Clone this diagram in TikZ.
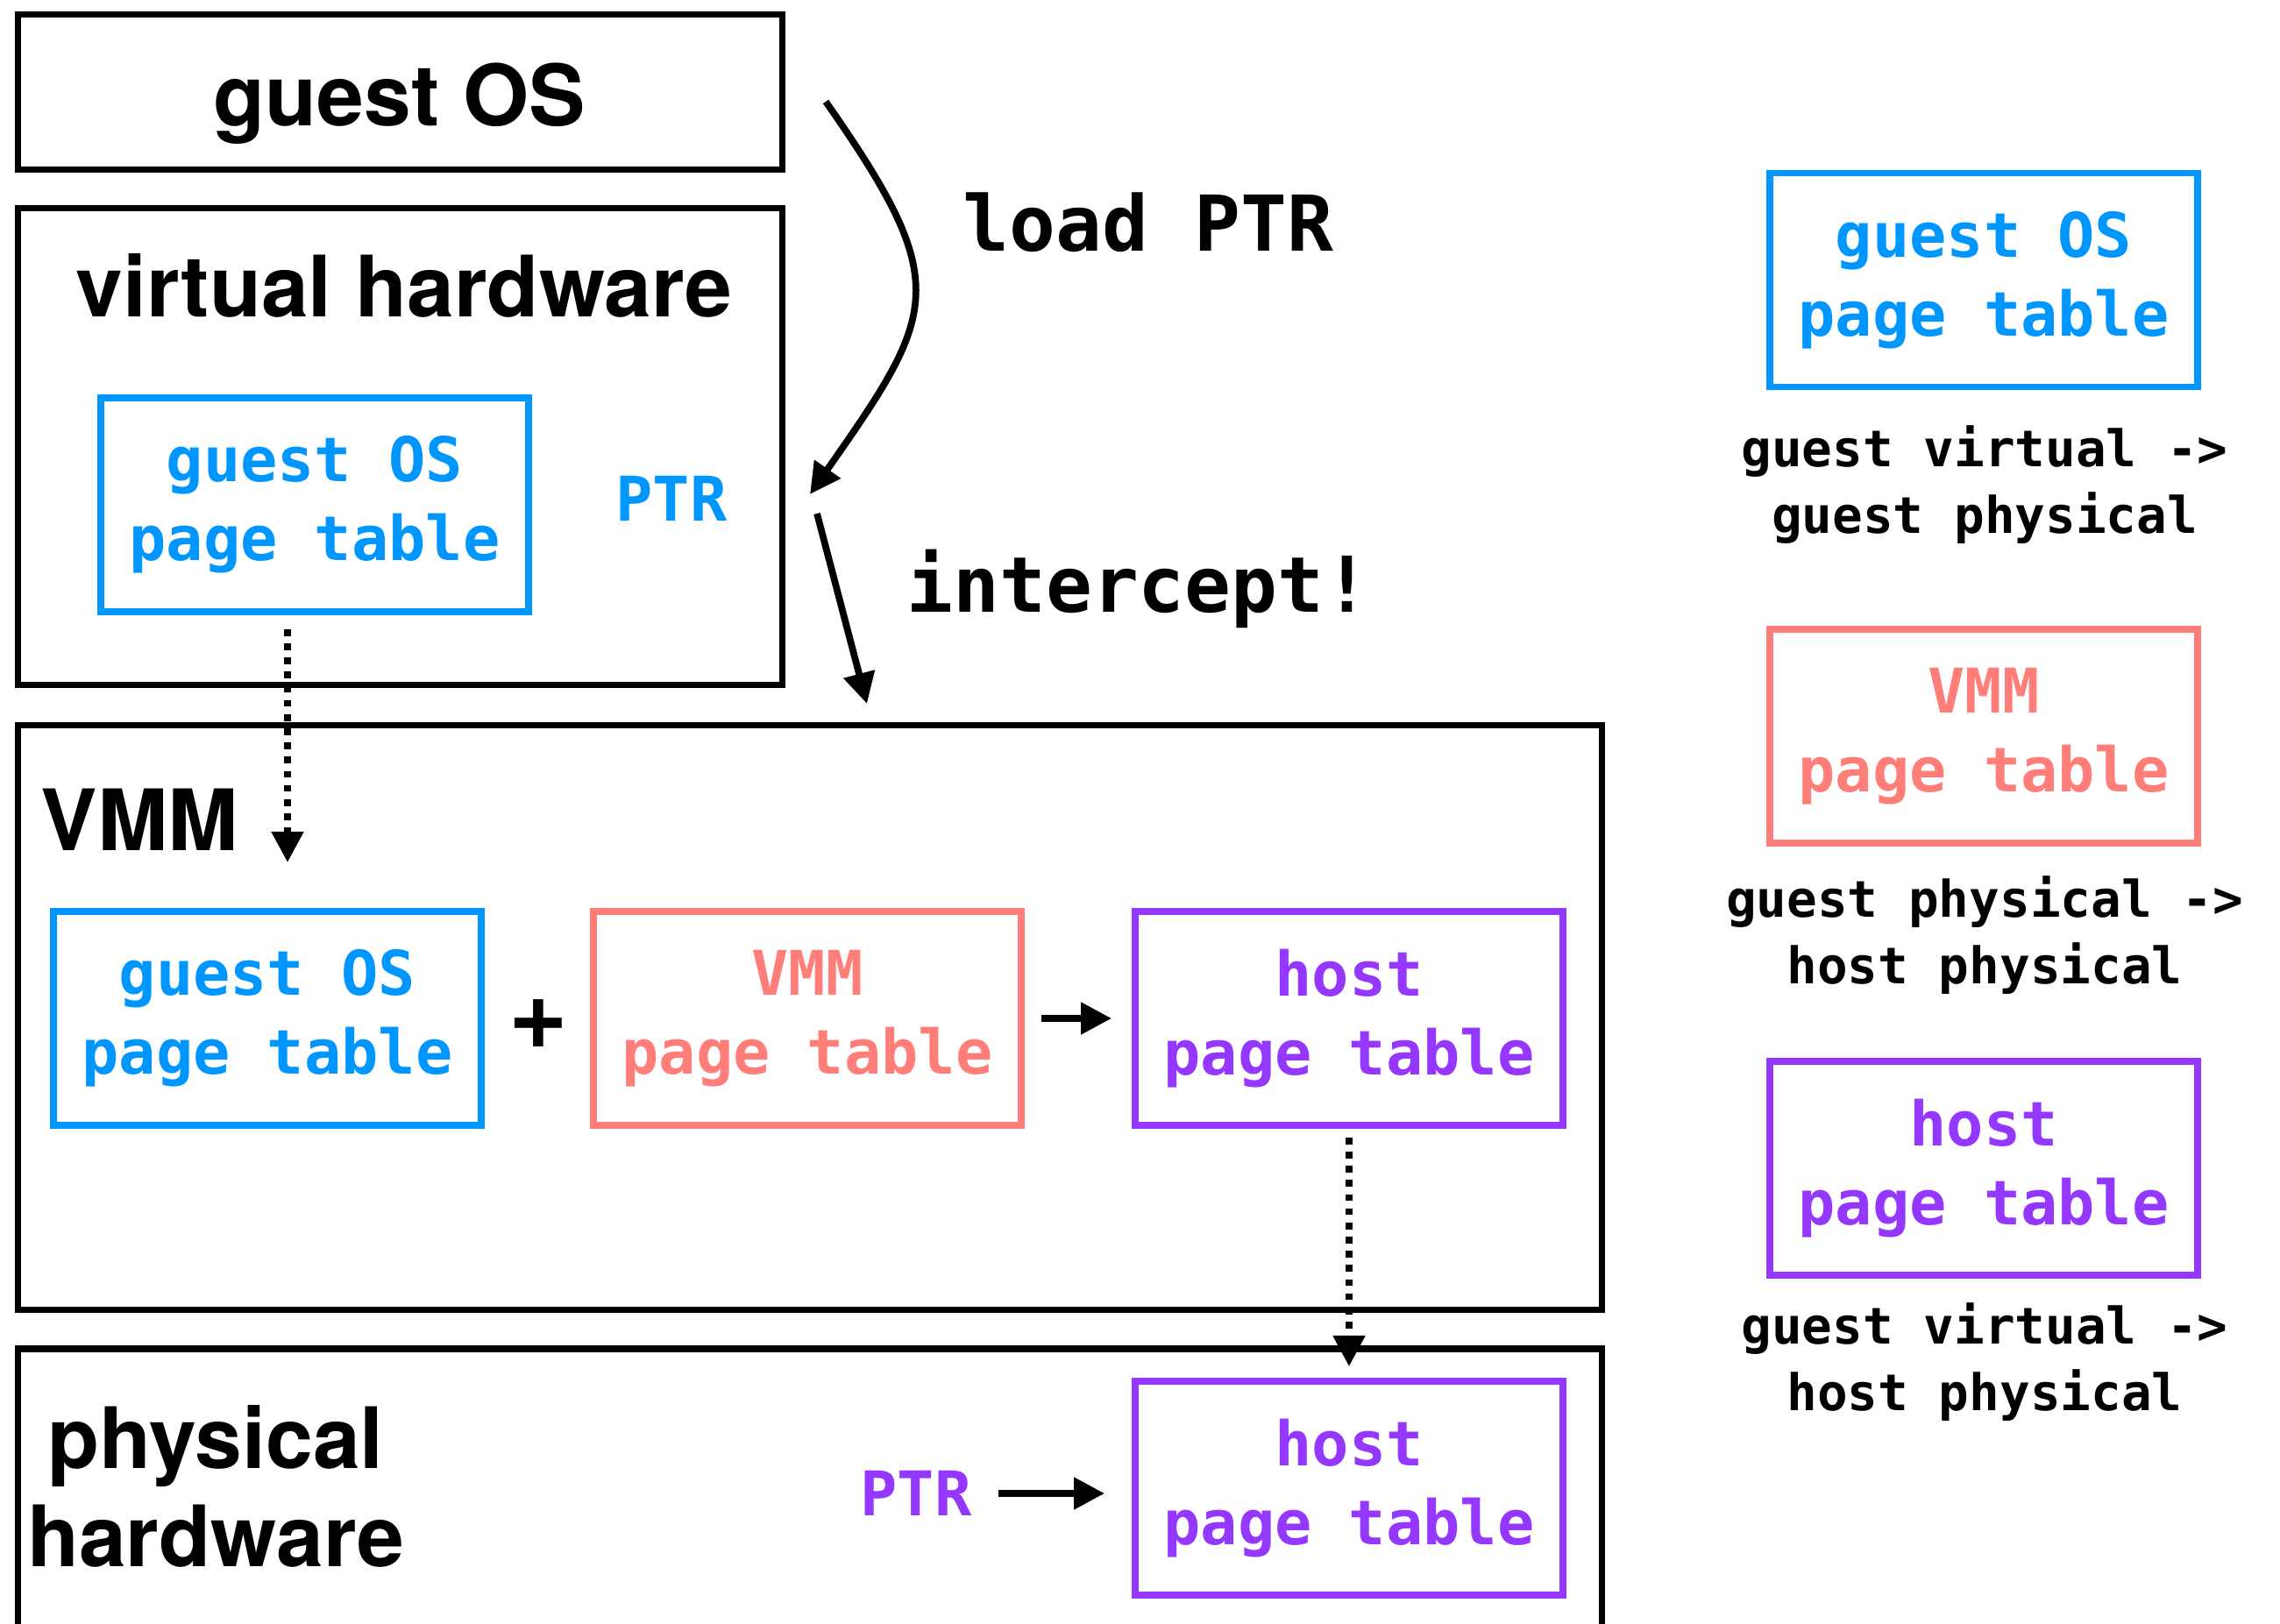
\documentclass[tikz,border=0pt]{standalone}
\usepackage{xcolor}
\usepackage{fontspec}
\setsansfont{TeX Gyre Heros}
\setmonofont{DejaVu Sans Mono}
\usepackage{tikz}
\usetikzlibrary{arrows}
\usetikzlibrary{arrows.meta}
\usetikzlibrary{positioning}
\definecolor{gblue}{RGB}{0,150,255}
\definecolor{vsalmon}{RGB}{255,126,121}
\definecolor{hpurple}{RGB}{148,55,255}
\tikzset{>={Triangle[length=10pt, width=10pt]}}
\tikzstyle{layerbox} = [draw, line width = 2.2pt, inner sep = 0]
\tikzstyle{ptbox} = [draw, line width = 2.2pt, minimum width = 4.88cm, minimum height = 2.44cm, align = center, font = \fontsize{20}{25.5}\selectfont\ttfamily\bfseries]
\tikzstyle{headtxt} = [inner sep = 0, font = \fontsize{27.5}{32}\selectfont\sffamily\bfseries]
\tikzstyle{monotxt} = [inner sep = 0, font = \fontsize{25}{30}\selectfont\ttfamily\bfseries]
\tikzstyle{ptrtxt} = [inner sep = 0, font = \fontsize{20}{25.5}\selectfont\ttfamily\bfseries]
\tikzstyle{legendtxt} = [inner sep = 0, align = center, font = \fontsize{16.4}{21.5}\selectfont\ttfamily\bfseries]
\tikzstyle{flow} = [->, line width = 2.2pt]
\tikzstyle{drop} = [->, line width = 2.2pt, dash pattern = on 2.2pt off 2.4pt]

\begin{document}
\begin{tikzpicture}
\useasboundingbox (0, 0) rectangle (26.01, 18.52);
% layers
\node [layerbox, minimum width = 8.72cm, minimum height = 1.77cm] (gos) at (4.565, 17.47) {};
\node [layerbox, minimum width = 8.72cm, minimum height = 5.44cm] (vhw) at (4.565, 13.425) {};
\node [layerbox, minimum width = 18.07cm, minimum height = 6.67cm] (vmm) at (9.24, 6.91) {};
\node [layerbox, minimum width = 18.07cm, minimum height = 3.6cm] (phw) at (9.24, 1.33) {};
\node [headtxt, anchor = base] (gostxt) at (4.56, 17.08) {guest OS};
\node [headtxt, anchor = base] (vhwtxt) at (4.61, 14.90) {virtual hardware};
\node [headtxt, anchor = base west] (vmmtxt) at (0.46, 8.82) {VMM};
\node [headtxt, align = center] (phwtxt) at (2.46, 1.56) {physical\\hardware};

% page tables
\node [ptbox, color = gblue] (gpt1) at (3.59, 12.76) {guest OS\\page table};
\node [ptrtxt, color = gblue] (vptr) at (7.66, 12.83) {PTR};
\node [ptbox, color = gblue] (gpt2) at (3.05, 6.90) {guest OS\\page table};
\node [headtxt, font = \fontsize{33}{36}\selectfont\sffamily\bfseries] (plus) at (6.14, 6.83) {+};
\node [ptbox, color = vsalmon] (vpt) at (9.21, 6.90) {VMM\\page table};
\node [ptbox, color = hpurple] (hpt1) at (15.39, 6.90) {host\\page table};
\node [ptbox, color = hpurple] (hpt2) at (15.39, 1.54) {host\\page table};
\node [ptrtxt, color = hpurple] (pptr) at (10.45, 1.48) {PTR};

% trap
\coordinate (lpstart) at (9.42, 17.36);
\coordinate (lpend) at (9.24, 12.88);
\coordinate (icstart) at (9.32, 12.66);
\coordinate (icend) at (9.89, 10.49);
\draw [flow] (lpstart) to [out = -55, in = 55, looseness = 1.45] (lpend);
\draw [flow] (icstart) to (icend);
\node [monotxt] (lptxt) at (13.10, 15.98) {load PTR};
\node [monotxt] (ictxt) at (12.99, 11.80) {intercept!};

\coordinate (gdrop) at (3.28, 8.68);
\draw [drop, shorten <= 0.16cm] (gpt1.south -| gdrop) to (gdrop);
\draw [drop, shorten <= 0.1cm, shorten >= 0.13cm] (hpt1) to (hpt2);
\draw [flow, shorten <= 0.19cm, shorten >= 0.23cm] (vpt) to (hpt1);
\draw [flow, shorten <= 0.3cm, shorten >= 0.31cm] (pptr) to (pptr -| hpt2.west);

% legend
\node [ptbox, color = gblue] (lg1) at (22.63, 15.325) {guest OS\\page table};
\node [legendtxt] (lg1txt) at (22.64, 12.99) {guest virtual ->\\guest physical};
\node [ptbox, color = vsalmon] (lg2) at (22.63, 10.12) {VMM\\page table};
\node [legendtxt] (lg2txt) at (22.64, 7.85) {guest physical ->\\host physical};
\node [ptbox, color = hpurple] (lg3) at (22.63, 5.19) {host\\page table};
\node [legendtxt] (lg3txt) at (22.64, 2.98) {guest virtual ->\\host physical};
\end{tikzpicture}
\end{document}
